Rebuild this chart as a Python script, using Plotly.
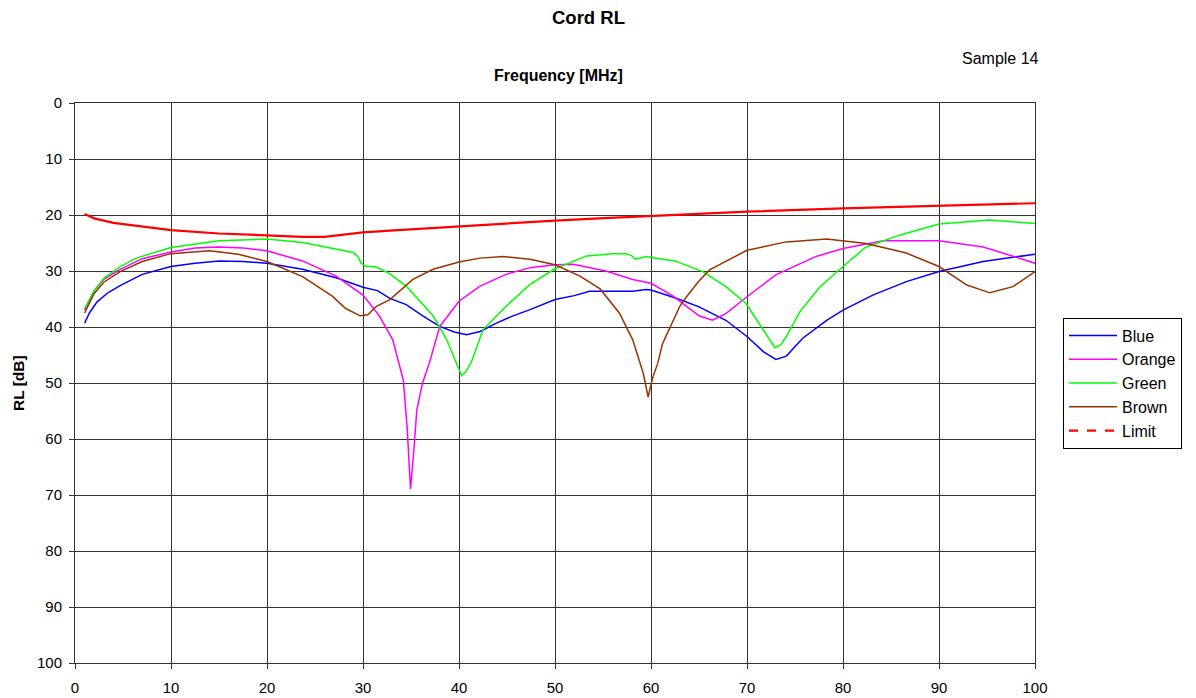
import plotly.graph_objects as go

# ---- data ----
blue_f = [1, 1.5, 2.3, 3.5, 4.7, 7, 10, 12.5, 15, 17.5, 20, 23.7, 27.2, 30, 31.5, 32.8, 34.5, 36.3, 38, 39.5,
          40.8, 42.2, 43.9, 45.5, 47.4, 50, 52, 53.6, 56, 58.1, 59.5, 60, 61.6, 63, 65, 67.8, 70, 71.7, 73,
          74.1, 75.8, 78.3, 80, 83.1, 86.6, 90, 94.6, 100]
blue_rl = [39.3, 37.5, 35.5, 33.8, 32.6, 30.6, 29.2, 28.6, 28.2, 28.3, 28.6, 29.7, 31.2, 32.9, 33.5, 34.9, 36.0,
           38.1, 39.9, 40.9, 41.4, 40.8, 39.3, 38.1, 36.9, 35.1, 34.4, 33.6, 33.6, 33.6, 33.3, 33.4, 34.3, 35.1,
           36.4, 38.8, 41.7, 44.4, 45.8, 45.2, 42.0, 38.8, 37.0, 34.3, 31.9, 30.1, 28.3, 27.0]

orange_f = [1, 2, 3, 4.7, 7, 10, 12.5, 15, 17.5, 20, 23.7, 27.2, 30, 31.7, 33.1, 34.2, 34.6, 34.95, 35.3, 35.6,
            36.2, 36.9, 38, 40, 42.2, 44.9, 47.4, 50, 51.9, 55.3, 58.1, 60, 62.3, 63.3, 65, 66.4, 67.8, 70, 73,
            77.2, 80, 84.2, 90, 94.6, 100]
orange_rl = [37.0, 33.5, 31.5, 29.7, 27.8, 26.6, 25.9, 25.7, 25.9, 26.4, 28.2, 30.9, 34.3, 38.0, 42.3, 49.5, 58.0,
             68.9, 62.0, 54.9, 50.0, 46.5, 39.9, 35.4, 32.7, 30.6, 29.4, 28.9, 28.8, 30.0, 31.5, 32.2, 34.5, 35.8,
             38.0, 38.8, 37.6, 34.6, 30.7, 27.4, 26.0, 24.6, 24.6, 25.7, 28.6]

green_f = [1, 2, 3, 4.7, 6.4, 10, 15, 20, 23.7, 27.2, 29, 29.5, 29.8, 30.2, 31.4, 32.8, 34.5, 37.3, 38.7, 40,
           40.3, 40.7, 41.3, 42.5, 44.9, 47.4, 50, 53.3, 56, 57.4, 58, 58.4, 59.5, 60, 62.5, 65.4, 67.8, 69.9,
           71.7, 72.9, 73.5, 74.1, 75.5, 77.6, 80, 82.4, 85.9, 90, 95.3, 100]
green_rl = [36.7, 33.5, 31.3, 29.2, 27.7, 25.8, 24.6, 24.3, 24.9, 26.1, 26.7, 27.5, 28.6, 29.1, 29.3, 30.5, 32.7,
            38.0, 42.2, 47.6, 48.7, 48.0, 46.2, 40.5, 36.3, 32.4, 29.6, 27.3, 26.9, 26.9, 27.3, 27.9, 27.4, 27.6,
            28.2, 30.1, 32.8, 35.8, 40.5, 43.7, 43.2, 41.7, 37.3, 32.8, 29.2, 25.7, 23.6, 21.6, 20.9, 21.5]

brown_f = [1, 2, 3, 4.7, 7, 10, 14, 17, 20, 23.7, 26.8, 28.2, 29.7, 30.5, 31.4, 32.8, 35.2, 37.3, 40, 42.2,
           44.6, 47.4, 50, 52.6, 54.7, 56.7, 58.1, 59.2, 59.7, 60.2, 60.7, 61.2, 61.6, 63, 63.7, 65, 66.1, 70,
           74.1, 78.3, 82.4, 86.6, 90, 92.9, 95.3, 97.7, 100]
brown_rl = [37.5, 34.0, 32.0, 30.1, 28.3, 26.9, 26.4, 27.0, 28.3, 31.0, 34.5, 36.7, 38.0, 37.8, 36.3, 35.1, 31.5,
            29.7, 28.4, 27.7, 27.4, 27.9, 28.9, 30.9, 33.2, 37.5, 42.3, 48.3, 52.5, 48.9, 46.5, 43.0, 41.5, 36.3,
            34.6, 31.8, 29.8, 26.3, 24.8, 24.3, 25.1, 26.8, 29.2, 32.5, 33.9, 32.8, 30.1]

limit_f = [1, 2, 4, 7, 10, 15, 20, 23.7, 26, 30, 32.8, 40, 50, 54.6, 60, 70, 80, 90, 100]
limit_rl = [19.8, 20.6, 21.4, 22.1, 22.7, 23.3, 23.7, 23.9, 23.9, 23.1, 22.8, 22.0, 21.0, 20.6, 20.2, 19.4,
            18.8, 18.3, 17.9]

x_ticks = [0, 10, 20, 30, 40, 50, 60, 70, 80, 90, 100]
y_ticks = [0, 10, 20, 30, 40, 50, 60, 70, 80, 90, 100]

FONT = "Liberation Sans, Arial, sans-serif"

# page body has an 8px margin: size/place the figure so the plot lands where the reference has it
OFF = 8
W, H = 1196 - OFF, 698 - OFF
L, T = 75 - OFF, 103 - OFF
R = W - (1035 - OFF)
B = H - (663 - OFF)
pw, ph = W - L - R, H - T - B

fig = go.Figure()
series = [
    ("Blue", blue_f, blue_rl, "#0000FF"),
    ("Orange", orange_f, orange_rl, "#FF00FF"),
    ("Green", green_f, green_rl, "#00FF00"),
    ("Brown", brown_f, brown_rl, "#993300"),
]
for name, f, rl, col in series:
    fig.add_trace(go.Scatter(x=f, y=rl, mode="lines", name=name, legendgroup=name,
                             line=dict(color=col, width=1.5)))

fig.add_trace(go.Scatter(x=limit_f, y=limit_rl, mode="lines", name="Limit", legendgroup="Limit",
                         line=dict(color="#FF0000", width=2.2), showlegend=False))
fig.add_trace(go.Scatter(x=[None], y=[None], mode="lines", name="Limit", legendgroup="Limit",
                         line=dict(color="#FF0000", width=2.2, dash="dash")))


def px_x(x):
    return (x - OFF - L) / pw


def px_y(y):
    return (H - B - (y - OFF)) / ph


fig.update_layout(
    width=W, height=H,
    margin=dict(l=L, r=R, t=T, b=B, autoexpand=False),
    paper_bgcolor="white", plot_bgcolor="white",
    font=dict(family=FONT, size=15, color="black"),
    showlegend=True,
    legend=dict(x=px_x(1063), y=px_y(383), xanchor="left", yanchor="middle",
                bordercolor="black", borderwidth=1, bgcolor="white",
                font=dict(family=FONT, size=16), tracegroupgap=0, itemwidth=48),
    xaxis=dict(range=[0, 100], tickvals=x_ticks, showgrid=True, gridcolor="#333333", gridwidth=1,
               showline=True, linecolor="#333333", mirror=True, zeroline=False, automargin=False,
               ticks="outside", ticklen=5, tickcolor="#333333", tickfont=dict(size=15),
               ticklabelstandoff=6),
    yaxis=dict(range=[100, 0], tickvals=y_ticks, showgrid=True, gridcolor="#333333", gridwidth=1,
               showline=True, linecolor="#333333", mirror=True, zeroline=False, automargin=False,
               ticks="outside", ticklen=5, tickcolor="#333333", tickfont=dict(size=15),
               ticklabelstandoff=4),
    annotations=[
        dict(text="<b>Cord RL</b>", x=px_x(588.5), y=px_y(17), xref="paper", yref="paper", showarrow=False,
             font=dict(size=18.5), xanchor="center", yanchor="middle"),
        dict(text="<b>Frequency [MHz]</b>", x=px_x(558), y=px_y(76), xref="paper", yref="paper",
             showarrow=False, font=dict(size=16), xanchor="center", yanchor="middle"),
        dict(text="Sample 14", x=px_x(1000.5), y=px_y(58), xref="paper", yref="paper", showarrow=False,
             font=dict(size=16), xanchor="center", yanchor="middle"),
        dict(text="<b>RL [dB]</b>", x=px_x(18), y=px_y(383), xref="paper", yref="paper", showarrow=False,
             textangle=-90, font=dict(size=15.5), xanchor="center", yanchor="middle"),
    ],
)

fig.write_html("out.html")
